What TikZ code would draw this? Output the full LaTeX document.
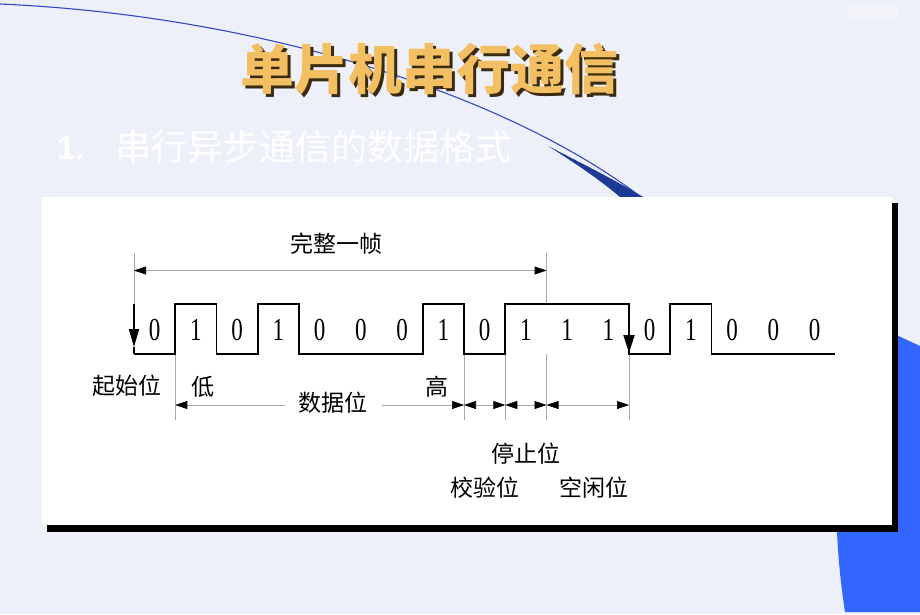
\documentclass[tikz,border=0pt]{standalone}
\usepackage{fontspec}
\usepackage{graphicx}
\setmainfont{Liberation Serif}
\newfontfamily\cjk{Noto Sans CJK SC}
\newfontfamily\arialf{Liberation Sans}
\usetikzlibrary{arrows.meta}
\definecolor{bg}{HTML}{EEF0F9}
\definecolor{brightblue}{HTML}{3366FF}
\definecolor{curveblue}{HTML}{3348C8}
\definecolor{navy}{HTML}{1E3A96}
\definecolor{gold}{HTML}{F2C063}
\definecolor{goldshadow}{HTML}{3A2A10}
\definecolor{guidegray}{HTML}{A8A8A8}
\tikzset{
  wave/.style={line width=1.8pt, black, line join=miter},
  guide/.style={guidegray, line width=0.6pt},
  tipdim/.style={{Triangle[length=12pt,width=8pt,color=black]}-{Triangle[length=12pt,width=8pt,color=black]}},
  dimline/.style={guide, tipdim},
  digit/.style={font=\fontsize{32}{32}\selectfont, inner sep=0pt},
  lbl/.style={font=\cjk\fontsize{23}{23}\selectfont, inner sep=0pt, black},
  titletext/.style={font=\cjk\bfseries\fontsize{54}{54}\selectfont, inner sep=0pt},
}
\begin{document}
\begin{tikzpicture}[x=1pt,y=-1pt]
\useasboundingbox (0,0) rectangle (920,614);
\fill[bg] (0,0) rectangle (920,614);
% faint block top right
\fill[white, opacity=0.35] (848,5) rectangle (897,20);
% right blue shape
\fill[brightblue] (860,318) -- (920,346) -- (920,612) -- (845,612)
  .. controls (841,585) and (837,555) .. (836,500) -- cycle;
% blue curve and wedge
\draw[curveblue, line width=1.1pt] (0,4) .. controls (250,15) and (500,90) .. (641,197);
\fill[navy] (548,146) .. controls (585,165) and (615,180) .. (643,197) -- (620,197)
  .. controls (600,180) and (575,163) .. (548,146) -- cycle;
% title
\node[titletext, goldshadow] (titleS) at (432.5,72) {单片机串行通信};
\node[titletext, gold] (title) at (429.5,69) {单片机串行通信};
% subtitle
\node[font=\arialf\bfseries\fontsize{33}{33}\selectfont, white, anchor=west, inner sep=0pt] (num) at (57,148) {1.};
\node[font=\cjk\fontsize{36}{36}\selectfont, white, inner sep=0pt] (sub) at (313.5,147) {串行异步通信的数据格式};
% panel with shadow
\fill[black] (47,203) rectangle (898,532);
\fill[white] (42,197) rectangle (892,525);
% guide coordinates
\coordinate (s0) at (134,253);
\coordinate (s1) at (134,304);
\coordinate (f0) at (546.5,253);
\coordinate (f1) at (546.5,304);
\foreach \n/\x in {ga/175.25,gb/464,gc/505.25,gd/546.5,ge/629}{
  \coordinate (\n0) at (\x,354);
  \coordinate (\n1) at (\x,420);
  \coordinate (\n2) at (\x,405);
}
\coordinate (fl) at (134,270.5);
\coordinate (fr) at (546.5,270.5);
% guide lines
\draw[guide] (s0) -- (s1);
\draw[guide] (f0) -- (f1);
\foreach \n in {ga,gb,gc,gd,ge}{\draw[guide] (\n0) -- (\n1);}
% frame dimension
\draw[dimline] (fl) -- (fr);
\node[lbl] (frame) at (336.5,244) {完整一帧};
% waveform
\draw[wave] (134,354) -- (175.25,354) -- (175.25,304) -- (216.5,304) -- (216.5,354)
  -- (257.75,354) -- (257.75,304) -- (299,304) -- (299,354) -- (422.75,354)
  -- (422.75,304) -- (464,304) -- (464,354) -- (505.25,354) -- (505.25,304)
  -- (629,304) -- (629,354) -- (670.25,354) -- (670.25,304) -- (711.5,304)
  -- (711.5,354) -- (835,354);
\coordinate (st0) at (134,304);
\coordinate (st1) at (134,347);
\coordinate (st2) at (134,354);
\coordinate (sp0) at (629,304);
\coordinate (sp1) at (629,353);
\draw[line width=1.8pt, -{Triangle[length=18pt,width=10pt]}] (st0) -- (st1);
\draw[line width=1.8pt] (st1) -- (st2);
\draw[line width=1.8pt, -{Triangle[length=18pt,width=11pt]}] (sp0) -- (sp1);
% bits
\foreach \b [count=\k from 0] in {0,1,0,1,0,0,0,1,0,1,1,1,0,1,0,0,0}{
  \node[digit] (bit\k) at ({134+41.25*(\k+0.5)},330) {\scalebox{0.72}[1]{\b}};
}
% dimension arrows below
\draw[dimline] (ga2) -- (gb2);
\draw[dimline] (gb2) -- (gc2);
\draw[dimline] (gc2) -- (gd2);
\draw[dimline] (gd2) -- (ge2);
\node[lbl, fill=white, inner xsep=14pt, inner ysep=2pt] (data) at (333,403) {数据位};
% labels
\node[lbl] (start) at (126.5,386) {起始位};
\node[lbl] (low) at (203,387) {低};
\node[lbl] (high) at (437,387) {高};
\node[lbl] (stop) at (526,454) {停止位};
\node[lbl] (parity) at (485,488) {校验位};
\node[lbl] (idle) at (594,488) {空闲位};
\end{tikzpicture}
\end{document}
